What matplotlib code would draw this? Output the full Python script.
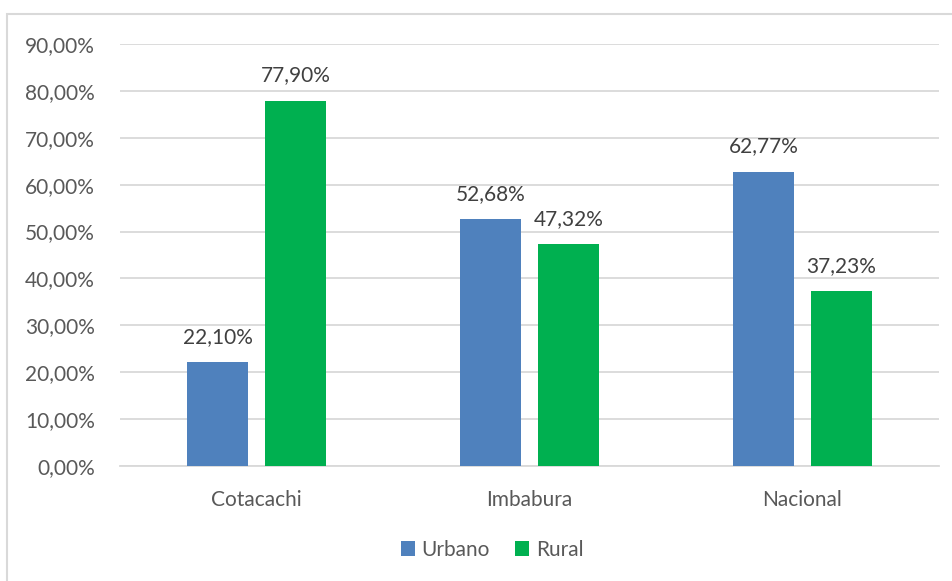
import numpy as np
import matplotlib.pyplot as plt
from matplotlib.patches import Rectangle

categorias = ['Cotacachi', 'Imbabura', 'Nacional']
urbano = [22.10, 52.68, 62.77]
rural = [77.90, 47.32, 37.23]
etiquetas_y = ['0,00%', '10,00%', '20,00%', '30,00%', '40,00%', '50,00%',
               '60,00%', '70,00%', '80,00%', '90,00%']

plt.rcParams['font.family'] = ['Lato', 'DejaVu Sans']
gris = '#595959'

W, H = 953, 581
fig = plt.figure(figsize=(W/100, H/100), dpi=100)
ax = fig.add_axes([120/W, 1-466/H, (939-120)/W, (466-44)/H])

# marco del grafico (solo se ve arriba y a la izquierda)
fig.patches.append(Rectangle((7/W, -0.1), 1.2, 1.1 - 13.5/H, transform=fig.transFigure,
                             fill=False, edgecolor='#D9D9D9', linewidth=1.5))

x = np.arange(len(categorias))
ancho = 0.223
b1 = ax.bar(x - 0.143, urbano, ancho, color='#4F81BD', label='Urbano', zorder=3)
b2 = ax.bar(x + 0.143, rural, ancho, color='#00B050', label='Rural', zorder=3)

for barras in (b1, b2):
    for b in barras:
        v = b.get_height()
        ax.annotate(('%.2f%%' % v).replace('.', ','),
                    (b.get_x() + b.get_width()/2, v), xytext=(0, 11),
                    textcoords='offset points', ha='center', va='bottom',
                    fontsize=15, color='#404040')

ax.set_xlim(-0.5, 2.5)
ax.set_ylim(0, 90)
ax.set_yticks(np.arange(0, 91, 10))
ax.set_yticklabels(etiquetas_y)
ax.set_xticks(x)
ax.set_xticklabels(categorias)
ax.tick_params(axis='both', length=0, labelsize=15, labelcolor=gris)
ax.tick_params(axis='y', pad=18)
ax.tick_params(axis='x', pad=17)
ax.grid(axis='y', color='#D9D9D9', linewidth=1.3, zorder=0)
for s in ['top', 'right', 'left']:
    ax.spines[s].set_visible(False)
ax.spines['bottom'].set_color('#D9D9D9')
ax.spines['bottom'].set_linewidth(1.3)

fig.legend(loc='center', bbox_to_anchor=(492/W, 1-550/H), ncol=2, frameon=False,
           fontsize=15, labelcolor=gris, handlelength=0.7, handleheight=0.7,
           handletextpad=0.3, columnspacing=1.2)

fig.savefig('out.png', dpi=100)
